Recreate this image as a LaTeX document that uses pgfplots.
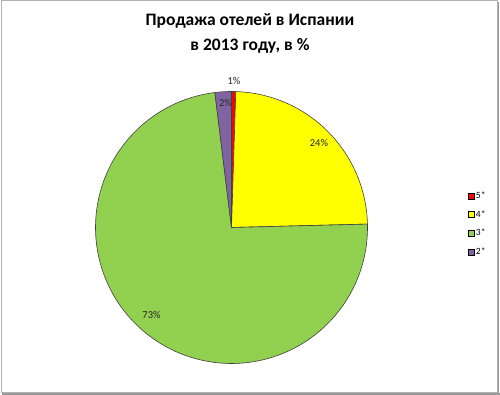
\documentclass[border=0pt]{standalone}
\usepackage{pgfplots}
\pgfplotsset{compat=1.18}
\usepackage{fontspec}
\setmainfont{Carlito}
\definecolor{c5}{HTML}{FF0000}
\definecolor{c4}{HTML}{FFFF00}
\definecolor{c3}{HTML}{92D050}
\definecolor{c2}{HTML}{8064A2}
\definecolor{edge}{HTML}{404040}
\begin{document}
\begin{tikzpicture}
\path[use as bounding box] (0pt,0pt) rectangle (500pt,395pt);
\fill[white] (0pt,0pt) rectangle (500pt,395pt);
\draw[black!30, line width=1pt] (1pt,2pt) rectangle (497.5pt,394.5pt);
\draw[black!40, line width=1.5pt] (498.7pt,1pt) -- (498.7pt,393pt);
\draw[black!40, line width=1.5pt] (2pt,1pt) -- (499.5pt,1pt);
\node[font=\fontsize{17.5}{25}\selectfont\bfseries, align=center] at (250pt,362pt) {Продажа отелей в Испании\\в 2013 году, в \%};
\begin{axis}[at={(95.5pt,31.5pt)}, anchor=south west, scale only axis,
  width=272pt, height=272pt, xmin=-1, xmax=1, ymin=-1, ymax=1,
  hide axis, clip=false,
  legend style={at={(axis description cs:1.369,0.513)}, anchor=west, draw=none, fill=none,
    font=\fontsize{9.5}{10}\selectfont, row sep=7.5pt, inner sep=0pt, nodes={inner sep=1.5pt}},
  legend cell align=left,
  legend image code/.code={\draw[#1, draw=black, line width=0.4pt] (0pt,-3pt) rectangle (6pt,3pt);}]
% shares: 5* 0.5, 4* 24.1, 3* 73.45, 2* 1.95 (clockwise from 12 o'clock)
\addplot[fill=c5, draw=edge, line width=0.6pt, domain={90-3.6*0.5}:90, samples=6] ({cos(x)},{sin(x)}) -- (axis cs:0,0) -- cycle;
\addlegendentry{5*}
\addplot[fill=c4, draw=edge, line width=0.6pt, domain={90-3.6*(0.5+24.1)}:{90-3.6*0.5}, samples=80] ({cos(x)},{sin(x)}) -- (axis cs:0,0) -- cycle;
\addlegendentry{4*}
\addplot[fill=c3, draw=edge, line width=0.6pt, domain={90-3.6*(0.5+24.1+73.45)}:{90-3.6*(0.5+24.1)}, samples=200] ({cos(x)},{sin(x)}) -- (axis cs:0,0) -- cycle;
\addlegendentry{3*}
\addplot[fill=c2, draw=edge, line width=0.6pt, domain={-270}:{90-3.6*(0.5+24.1+73.45)}, samples=10] ({cos(x)},{sin(x)}) -- (axis cs:0,0) -- cycle;
\addlegendentry{2*}
\node[font=\fontsize{10.5}{12}\selectfont, text=black!85] at (axis cs:0.018,1.074) {1\%};
\node[font=\fontsize{10.5}{12}\selectfont, text=black!85] at (axis cs:-0.044,0.919) {2\%};
\node[font=\fontsize{10.5}{12}\selectfont, text=black!85] at (axis cs:0.643,0.625) {24\%};
\node[font=\fontsize{10.5}{12}\selectfont, text=black!85] at (axis cs:-0.588,-0.640) {73\%};
\end{axis}
\end{tikzpicture}
\end{document}
